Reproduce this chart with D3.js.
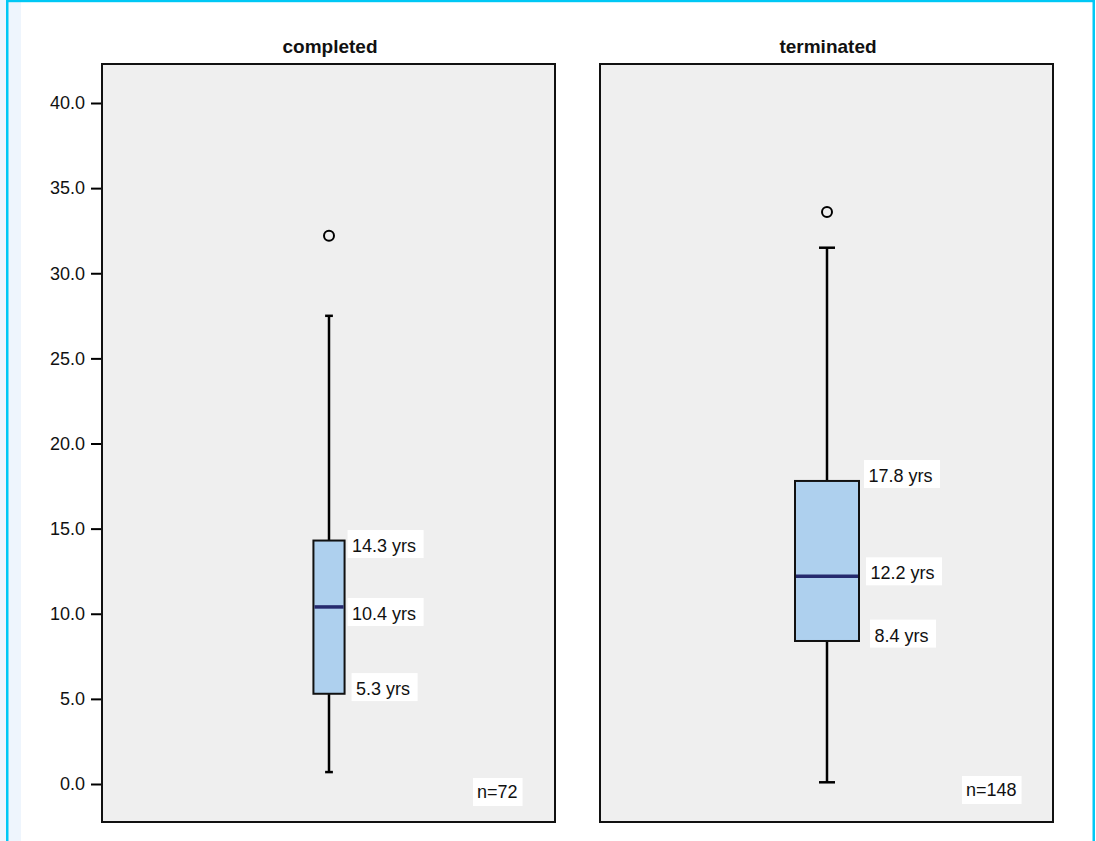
<!DOCTYPE html>
<html>
<head>
<meta charset="utf-8">
<script src="https://cdn.jsdelivr.net/npm/d3@7"></script>
<style>
  html, body { margin: 0; padding: 0; background: #fff; }
  svg { display: block; font-family: "Liberation Sans", Arial, sans-serif; }
</style>
</head>
<body>
<svg id="chart" width="1096" height="841"></svg>
<script>
// ---- data ----
const groups = ["completed", "terminated"];
const sampleSizes = [72, 148];
const whiskerLow = [0.7, 0.1];
const q1 = [5.3, 8.4];
const medians = [10.4, 12.2];
const q3 = [14.3, 17.8];
const whiskerHigh = [27.5, 31.5];
const outliers = [[32.2], [33.6]];
const yTicks = [0, 5, 10, 15, 20, 25, 30, 35, 40];

// ---- layout ----
const W = 1096, H = 841;
const FONT = "'Liberation Sans', Arial, sans-serif";
const svg = d3.select("#chart");

// page frame
svg.append("rect").attr("x", 0).attr("y", 0).attr("width", W).attr("height", H).attr("fill", "#fff");
svg.append("rect").attr("x", 0).attr("y", 0).attr("width", 21).attr("height", H).attr("fill", "#eef5fd");
svg.append("rect").attr("x", 6).attr("y", 0).attr("width", 2.5).attr("height", H).attr("fill", "#00c8f5");
svg.append("rect").attr("x", 1092.5).attr("y", 0).attr("width", 2.5).attr("height", H).attr("fill", "#00c8f5");
svg.append("rect").attr("x", 6).attr("y", 0).attr("width", 1089).attr("height", 2.2).attr("fill", "#00c8f5");

const panelTop = 64, panelBottom = 822;
const panels = [{x0: 102, x1: 555, cx: 329}, {x0: 600, x1: 1053, cx: 827}];

const y = d3.scaleLinear().domain([0, 40]).range([784, 103]);

// y axis
const yAxis = d3.axisLeft(y).tickValues(yTicks).tickFormat(d3.format(".1f")).tickSize(11).tickPadding(6);
const axG = svg.append("g").attr("transform", `translate(${panels[0].x0},0)`).call(yAxis);
axG.select(".domain").remove();
axG.selectAll(".tick line").attr("stroke", "#000").attr("stroke-width", 2);
axG.selectAll(".tick text").attr("font-size", 18).attr("fill", "#111").attr("font-family", FONT);

// box width proportional to sample size
const maxN = d3.max(sampleSizes);
const boxW = d3.scaleLinear().domain([0, maxN]).range([0, 64]);
const capW = d3.scaleLinear().domain([0, maxN]).range([0, 16]);

// label placement (layout only): [dx from box edge, dy from value position]
const labelPos = [
  [[3, 3.5], [3, 5], [7, -6.7]],
  [[5, -7], [7, -5], [11, -7.4]]
];
const nLabelX = [473, 962];
const nLabelY = [778, 776];

groups.forEach((g, i) => {
  const p = panels[i];
  const pg = svg.append("g");
  pg.append("rect").attr("x", p.x0).attr("y", panelTop)
    .attr("width", p.x1 - p.x0).attr("height", panelBottom - panelTop)
    .attr("fill", "#efefef").attr("stroke", "#111").attr("stroke-width", 2);

  pg.append("text").attr("x", p.cx + 1).attr("y", 53)
    .attr("text-anchor", "middle").attr("font-size", 19).attr("font-weight", "bold")
    .attr("fill", "#111").text(g);

  const cx = p.cx;
  const bw = boxW(sampleSizes[i]);
  const cw = capW(sampleSizes[i]);

  // whiskers
  pg.append("line").attr("x1", cx).attr("x2", cx).attr("y1", y(whiskerHigh[i])).attr("y2", y(q3[i]))
    .attr("stroke", "#000").attr("stroke-width", 2.5);
  pg.append("line").attr("x1", cx).attr("x2", cx).attr("y1", y(q1[i])).attr("y2", y(whiskerLow[i]))
    .attr("stroke", "#000").attr("stroke-width", 2.5);
  [whiskerHigh[i], whiskerLow[i]].forEach(v => {
    pg.append("line").attr("x1", cx - cw / 2).attr("x2", cx + cw / 2).attr("y1", y(v)).attr("y2", y(v))
      .attr("stroke", "#000").attr("stroke-width", 2.5);
  });

  // box
  pg.append("rect").attr("x", cx - bw / 2).attr("y", y(q3[i]))
    .attr("width", bw).attr("height", y(q1[i]) - y(q3[i]))
    .attr("fill", "#aed0ee").attr("stroke", "#111").attr("stroke-width", 2);
  pg.append("line").attr("x1", cx - bw / 2 + 1).attr("x2", cx + bw / 2 - 1)
    .attr("y1", y(medians[i])).attr("y2", y(medians[i]))
    .attr("stroke", "#262a6e").attr("stroke-width", 3.5);

  // outliers
  outliers[i].forEach(v => {
    pg.append("circle").attr("cx", cx).attr("cy", y(v)).attr("r", 5)
      .attr("fill", "none").attr("stroke", "#000").attr("stroke-width", 2);
  });

  // value labels
  [q3[i], medians[i], q1[i]].forEach((v, k) => {
    const [dx, dy] = labelPos[i][k];
    const lx = cx + bw / 2 + dx;
    const cy = y(v) + dy;
    const bg = pg.append("rect");
    const t = pg.append("text").attr("x", lx + 4.5).attr("y", cy + 8)
      .attr("font-size", 18).attr("fill", "#111").text(d3.format(".1f")(v) + " yrs");
    const bb = t.node().getBBox();
    bg.attr("x", lx).attr("y", cy - 14)
      .attr("width", bb.width + 12).attr("height", 28).attr("fill", "#fff");
  });

  // n label
  const nbg = pg.append("rect");
  const nt = pg.append("text").attr("x", nLabelX[i] + 4).attr("y", nLabelY[i] + 20)
    .attr("font-size", 18).attr("fill", "#111").text("n=" + sampleSizes[i]);
  const nb = nt.node().getBBox();
  nbg.attr("x", nLabelX[i]).attr("y", nLabelY[i])
    .attr("width", nb.width + 9).attr("height", 28).attr("fill", "#fff");
});
</script>
</body>
</html>
